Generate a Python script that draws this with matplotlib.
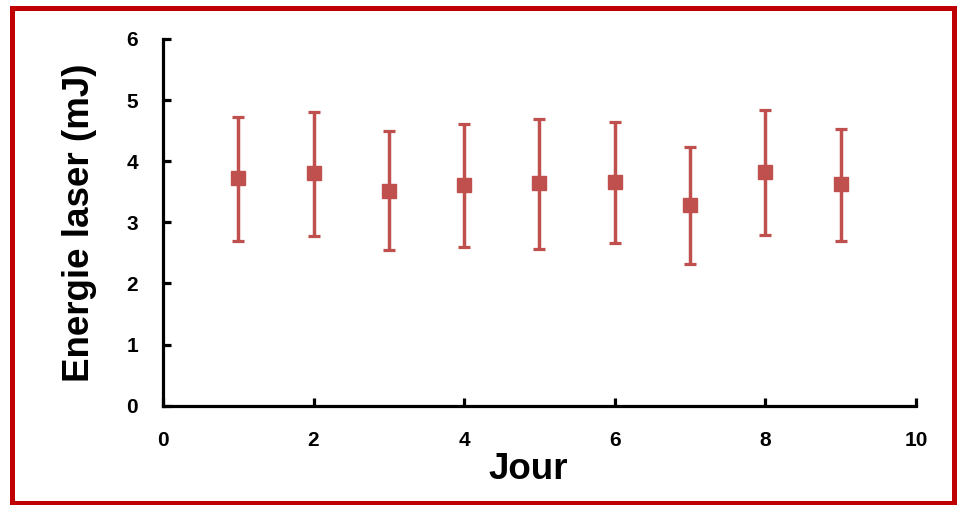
import numpy as np
import matplotlib.pyplot as plt
from matplotlib.patches import Rectangle

# données
jours = [1, 2, 3, 4, 5, 6, 7, 8, 9]
energie = [3.72, 3.80, 3.51, 3.61, 3.64, 3.66, 3.28, 3.82, 3.62]
err_haut = [1.00, 1.00, 0.99, 1.00, 1.05, 0.98, 0.96, 1.02, 0.91]
err_bas = [1.02, 1.02, 0.96, 1.01, 1.08, 1.00, 0.96, 1.02, 0.92]

plt.rcParams['font.family'] = ['Liberation Sans', 'DejaVu Sans']

fig = plt.figure(figsize=(9.61, 5.05), dpi=100)
ax = fig.add_axes([0.1696, 0.1966, 0.7834, 0.7262])

couleur = '#C0504D'
ax.errorbar(jours, energie, yerr=[err_bas, err_haut], fmt='s', color=couleur,
            ecolor=couleur, markersize=10, elinewidth=2.5, capsize=4,
            capthick=2.3, zorder=3)

ax.set_xlim(0, 10)
ax.set_ylim(0, 6)
ax.set_xticks(np.arange(0, 11, 2))
ax.set_yticks(np.arange(0, 7, 1))

for s in ['top', 'right']:
    ax.spines[s].set_visible(False)
for s in ['left', 'bottom']:
    ax.spines[s].set_linewidth(2.3)

ax.tick_params(axis='both', direction='in', length=6, width=2.3, labelsize=15)
ax.tick_params(axis='x', pad=18)
ax.tick_params(axis='y', pad=18)
for lab in ax.get_xticklabels() + ax.get_yticklabels():
    lab.set_fontweight('bold')

ax.set_xlabel('Jour', fontsize=26.5, fontweight='bold')
ax.set_ylabel('Energie laser (mJ)', fontsize=26.5, fontweight='bold')
ax.xaxis.set_label_coords(0.485, -0.125)
ax.yaxis.set_label_coords(-0.088, 0.5)

# cadre rouge autour de la figure
fig.patches.append(Rectangle((0.0122, 0.003), 0.9805, 0.982, transform=fig.transFigure,
                             fill=False, edgecolor='#C00000', linewidth=3.6))

fig.savefig('out.png', dpi=100)
